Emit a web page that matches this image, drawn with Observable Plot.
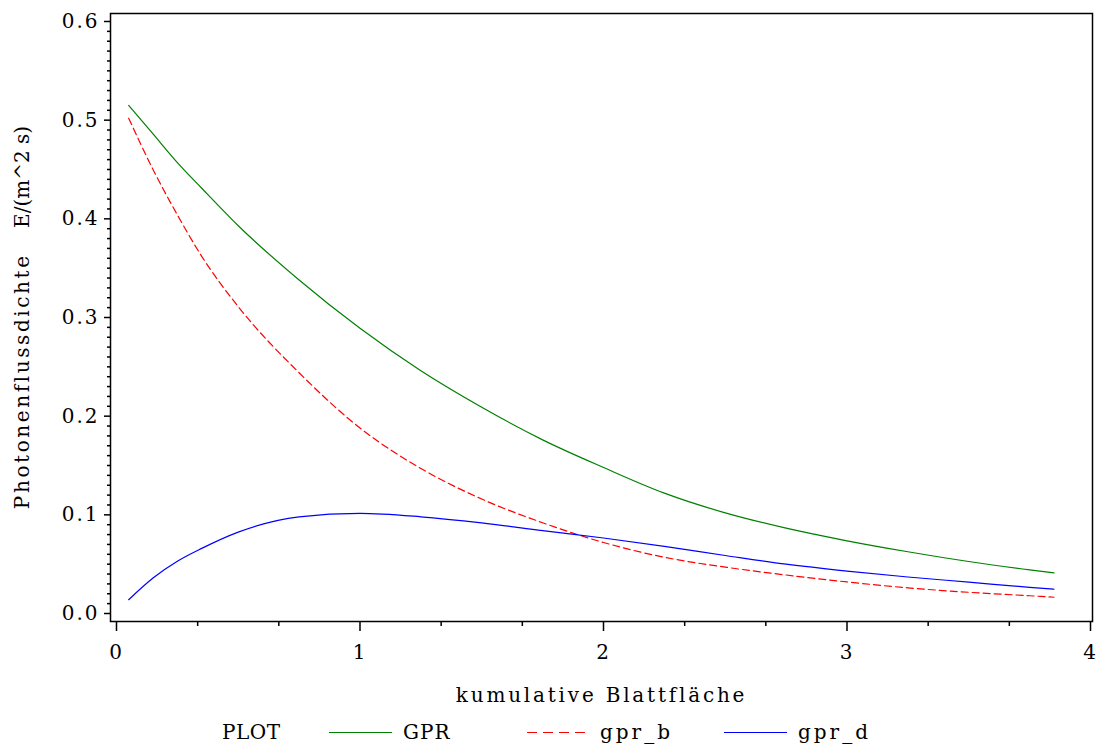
<!DOCTYPE html>
<html><head><meta charset="utf-8">
<script src="https://cdn.jsdelivr.net/npm/d3@7"></script>
<script src="https://cdn.jsdelivr.net/npm/@observablehq/plot@0.6"></script>
<style>
body{margin:0;background:#fff;}
#wrap{position:relative;width:1099px;height:746px;background:#fff;font-family:"DejaVu Serif",serif;color:#000;}
.lt{position:absolute;top:718px;font-size:20px;line-height:28px;white-space:pre;}
.ls{position:absolute;top:718px;height:28px;}
g[aria-label="x-axis tick label"] text, g[aria-label="y-axis tick label"] text{letter-spacing:2px;}
g[aria-label="x-axis label"] text{letter-spacing:2.8px;}
</style></head><body><div id="wrap"></div>
<script>
// cumulative leaf area (x) and photon flux densities
const xs   = [0.05, 0.15, 0.25, 0.35, 0.5, 0.75, 1.0, 1.25, 1.5, 1.75, 2.0, 2.25, 2.5, 2.75, 3.0, 3.25, 3.5, 3.75, 3.85];
const gpr  = [0.515, 0.486, 0.457, 0.431, 0.393, 0.338, 0.289, 0.246, 0.209, 0.176, 0.148, 0.122, 0.102, 0.0865, 0.0737, 0.0626, 0.0527, 0.0443, 0.0412];
const gprB = [0.502, 0.450, 0.404, 0.362, 0.311, 0.244, 0.188, 0.147, 0.116, 0.092, 0.072, 0.057, 0.047, 0.039, 0.032, 0.026, 0.0215, 0.018, 0.0165];
const gprD = [0.014, 0.036, 0.053, 0.066, 0.0825, 0.098, 0.1015, 0.098, 0.0918, 0.084, 0.0765, 0.068, 0.0588, 0.050, 0.043, 0.037, 0.0318, 0.0265, 0.0246];
const seriesNames = ["GPR", "gpr_b", "gpr_d"];
const seriesColors = ["#008000", "#ff0000", "#0000ff"];
const xMajor = [0, 1, 2, 3, 4];
const xMinor = [1/3, 2/3, 4/3, 5/3, 7/3, 8/3, 10/3, 11/3];
const yMajor = [0, 0.1, 0.2, 0.3, 0.4, 0.5, 0.6];
const yMinor = d3.range(0, 61).filter(i => i % 10 !== 0).map(i => i / 100);
const xLabel = "kumulative Blattfläche";
const yLabelParts = ["Photonenflussdichte", "\u00a0\u00a0\u00a0\u00a0E/(m^2 s)"];
const legendTitle = "PLOT";

const series = [gpr, gprB, gprD];
const rows = seriesNames.map((s, k) => xs.map((x, i) => ({x, y: series[k][i], s})));

const plot = Plot.plot({
  width: 1099, height: 712,
  marginLeft: 110, marginRight: 7, marginTop: 13, marginBottom: 91,
  style: {fontFamily: "DejaVu Serif", fontSize: "20px", color: "#000", background: "#fff"},
  x: {domain: [-0.0246, 4.0082]},
  y: {domain: [-0.0081, 0.6081]},
  color: {domain: seriesNames, range: seriesColors},
  marks: [
    Plot.frame({stroke: "#000", strokeWidth: 1.5}),
    Plot.axisX(xMinor, {tickSize: 5, text: null, label: null, strokeWidth: 1.5}),
    Plot.axisX(xMajor, {tickSize: 10, tickPadding: 13, tickFormat: d => String(d), strokeWidth: 1.5,
      label: xLabel, labelAnchor: "center", labelOffset: 80, labelArrow: "none"}),
    Plot.axisY(yMinor, {tickSize: 3, text: null, label: null, strokeWidth: 1.5}),
    Plot.axisY(yMajor, {tickSize: 6, tickPadding: 5, tickFormat: d3.format(".1f"), strokeWidth: 1.5,
      label: yLabelParts.join(""), labelAnchor: "center", labelOffset: 96, labelArrow: "none"}),
    Plot.line(rows[0], {x: "x", y: "y", stroke: "s", curve: "monotone-x", strokeWidth: 1.2}),
    Plot.line(rows[1], {x: "x", y: "y", stroke: "s", curve: "monotone-x", strokeWidth: 1.2, strokeDasharray: "7,4"}),
    Plot.line(rows[2], {x: "x", y: "y", stroke: "s", curve: "monotone-x", strokeWidth: 1.2})
  ]
});
const wrap = document.getElementById("wrap");
wrap.appendChild(plot);

// y label: two runs with different letter spacing (keeps it one real text element)
const ns = "http://www.w3.org/2000/svg";
const yl = plot.querySelector('g[aria-label="y-axis label"] text');
if (yl) {
  while (yl.firstChild) yl.removeChild(yl.firstChild);
  const spacing = ["2.6px", "0px"];
  yLabelParts.forEach((p, i) => {
    const t = document.createElementNS(ns, "tspan");
    t.setAttribute("style", "letter-spacing:" + spacing[i]);
    t.textContent = p;
    yl.appendChild(t);
  });
}

// legend
function addText(t, left, ls) {
  const d = document.createElement("div");
  d.className = "lt"; d.style.left = left + "px"; d.style.letterSpacing = ls + "px";
  d.textContent = t; wrap.appendChild(d);
}
function addSample(color, dash, left, w) {
  const s = document.createElementNS(ns, "svg");
  s.setAttribute("class", "ls"); s.setAttribute("width", w); s.setAttribute("height", 28);
  s.style.left = left + "px";
  const l = document.createElementNS(ns, "line");
  l.setAttribute("x1", 0); l.setAttribute("x2", w); l.setAttribute("y1", 14.5); l.setAttribute("y2", 14.5);
  l.setAttribute("stroke", color); l.setAttribute("stroke-width", 1.2);
  if (dash) l.setAttribute("stroke-dasharray", dash);
  s.appendChild(l); wrap.appendChild(s);
}
addText(legendTitle, 222, 0.5);
const sampleLeft = [329, 527, 724], textLeft = [403, 600, 798], textSpacing = [1, 3, 3];
seriesNames.forEach((s, k) => {
  addSample(seriesColors[k], k === 1 ? "10,6" : null, sampleLeft[k], 63);
  addText(s, textLeft[k], textSpacing[k]);
});
</script></body></html>
